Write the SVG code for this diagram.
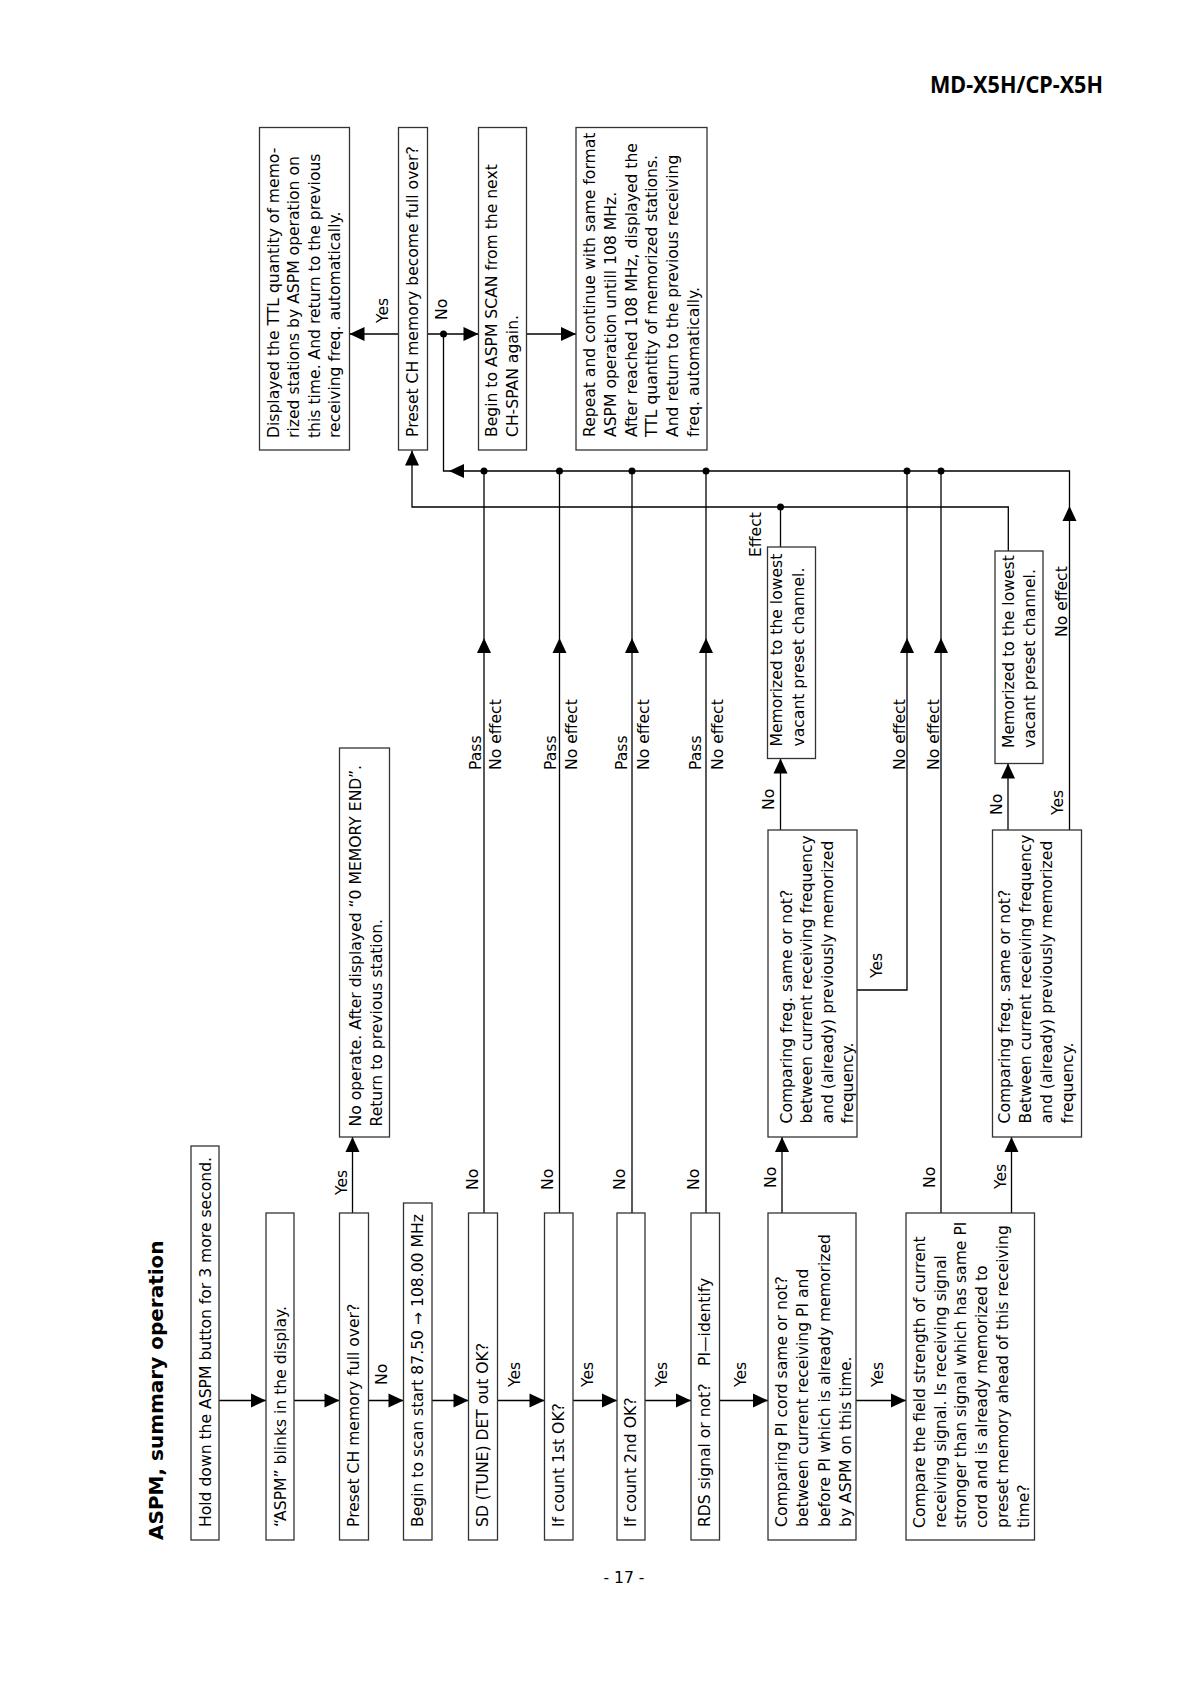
<svg xmlns="http://www.w3.org/2000/svg" width="1192" height="1685" viewBox="0 0 1192 1685">
<defs>
<marker id="ah" markerUnits="userSpaceOnUse" markerWidth="16" markerHeight="14" refX="15" refY="7" orient="auto" overflow="visible"><path d="M0,0 L15,7 L0,14 z" fill="#000"/></marker>
<style>
.bx{fill:#fff;stroke:#333;stroke-width:1.3}
.t{font-family:"DejaVu Sans",Verdana,sans-serif;font-size:15.6px;fill:#000}
.c{fill:none;stroke:#000;stroke-width:1.3}
.a{fill:none;stroke:#000;stroke-width:1.3;marker-end:url(#ah)}
.d{fill:#000}
</style>
</defs>
<rect width="1192" height="1685" fill="#fff"/>

<text x="1103" y="93" text-anchor="end" font-family="'Noto Sans','DejaVu Sans',sans-serif" font-weight="bold" font-size="22.5" textLength="173" lengthAdjust="spacingAndGlyphs">MD-X5H/CP-X5H</text>
<text transform="translate(163,1540) rotate(-90)" font-family="'DejaVu Sans',sans-serif" font-weight="bold" font-size="20">ASPM, summary operation</text>
<text x="624" y="1583" text-anchor="middle" class="t">- 17 -</text>

<g id="connectors">
<path class="a" d="M219,1400.5H266"/>
<path class="a" d="M294,1400.5H339.5"/>
<path class="a" d="M368.5,1400.5H403.5"/>
<path class="a" d="M432,1400.5H468.5"/>
<path class="a" d="M497.5,1400.5H544.5"/>
<path class="a" d="M573,1400.5H617"/>
<path class="a" d="M645,1400.5H691"/>
<path class="a" d="M719.5,1400.5H768"/>
<path class="a" d="M856,1400.5H906"/>
<path class="a" d="M352.5,1213V1137"/>
<path class="a" d="M484,1213V638"/><path class="c" d="M484,638V471"/>
<path class="a" d="M559.5,1213V638"/><path class="c" d="M559.5,638V471"/>
<path class="a" d="M632,1213V638"/><path class="c" d="M632,638V471"/>
<path class="a" d="M706,1213V638"/><path class="c" d="M706,638V471"/>
<path class="a" d="M782,1213V1137"/>
<path class="a" d="M780.5,830V758.5"/>
<path class="c" d="M780.5,547V507"/>
<path class="a" d="M857,990H907V638"/><path class="c" d="M907,638V471"/>
<path class="a" d="M941,1213V638"/><path class="c" d="M941,638V471"/>
<path class="a" d="M1011.5,1213V1137"/>
<path class="a" d="M1008,830V763.5"/>
<path class="a" d="M1008.3,551V507H412V450.5"/>
<path class="a" d="M1069.5,830V506"/>
<path class="a" d="M1069.5,506V471H449"/>
<path class="c" d="M449,471H443.5V334"/>
<path class="a" d="M427.5,334H478.5"/>
<path class="a" d="M398.5,334H349.5"/>
<path class="a" d="M526.5,334H576"/>
<circle class="d" cx="443.5" cy="334" r="3.5"/>
<circle class="d" cx="484" cy="471" r="3.5"/>
<circle class="d" cx="559.5" cy="471" r="3.5"/>
<circle class="d" cx="632" cy="471" r="3.5"/>
<circle class="d" cx="706" cy="471" r="3.5"/>
<circle class="d" cx="907" cy="471" r="3.5"/>
<circle class="d" cx="941" cy="471" r="3.5"/>
<circle class="d" cx="780.5" cy="507" r="3.5"/>
</g>

<g id="labels" class="t">
<text transform="translate(346.5,1195) rotate(-90)">Yes</text>
<text transform="translate(386.5,1385) rotate(-90)">No</text>
<text transform="translate(520,1387) rotate(-90)">Yes</text>
<text transform="translate(593,1387) rotate(-90)">Yes</text>
<text transform="translate(667,1387) rotate(-90)">Yes</text>
<text transform="translate(745.5,1387) rotate(-90)">Yes</text>
<text transform="translate(883,1387) rotate(-90)">Yes</text>
<text transform="translate(478,1190) rotate(-90)">No</text>
<text transform="translate(552.5,1190) rotate(-90)">No</text>
<text transform="translate(625,1190) rotate(-90)">No</text>
<text transform="translate(699,1190) rotate(-90)">No</text>
<text transform="translate(776,1188) rotate(-90)">No</text>
<text transform="translate(935,1188) rotate(-90)">No</text>
<text transform="translate(1006,1189) rotate(-90)">Yes</text>
<text transform="translate(481,770) rotate(-90)">Pass</text>
<text transform="translate(555.5,770) rotate(-90)">Pass</text>
<text transform="translate(627,770) rotate(-90)">Pass</text>
<text transform="translate(701,770) rotate(-90)">Pass</text>
<text transform="translate(501,770) rotate(-90)">No effect</text>
<text transform="translate(577,770) rotate(-90)">No effect</text>
<text transform="translate(649,770) rotate(-90)">No effect</text>
<text transform="translate(723,770) rotate(-90)">No effect</text>
<text transform="translate(904.5,770) rotate(-90)">No effect</text>
<text transform="translate(938.5,770) rotate(-90)">No effect</text>
<text transform="translate(774,810) rotate(-90)">No</text>
<text transform="translate(760.5,557) rotate(-90)">Effect</text>
<text transform="translate(882,978) rotate(-90)">Yes</text>
<text transform="translate(1001.5,815) rotate(-90)">No</text>
<text transform="translate(1063,815) rotate(-90)">Yes</text>
<text transform="translate(1067,637) rotate(-90)">No effect</text>
<text transform="translate(388,323) rotate(-90)">Yes</text>
<text transform="translate(446.5,320) rotate(-90)">No</text>
</g>

<g id="n1"><rect class="bx" x="191" y="1146" width="28" height="394"/><text class="t" transform="translate(210.5,1527) rotate(-90)">Hold down the ASPM button for 3 more second.</text></g>
<g id="n2"><rect class="bx" x="266" y="1213" width="28" height="327"/><text class="t" transform="translate(285.5,1527) rotate(-90)">“ASPM” blinks in the display.</text></g>
<g id="n3"><rect class="bx" x="339.5" y="1213" width="29" height="327"/><text class="t" transform="translate(359,1527) rotate(-90)">Preset CH memory full over?</text></g>
<g id="n4"><rect class="bx" x="403.5" y="1203" width="28.5" height="337"/><text class="t" transform="translate(423,1527) rotate(-90)">Begin to scan start 87.50 → 108.00 MHz</text></g>
<g id="n5"><rect class="bx" x="468.5" y="1213" width="29" height="327"/><text class="t" transform="translate(488,1527) rotate(-90)">SD (TUNE) DET out OK?</text></g>
<g id="n6"><rect class="bx" x="544.5" y="1213" width="28.5" height="327"/><text class="t" transform="translate(564,1527) rotate(-90)">If count 1st OK?</text></g>
<g id="n7"><rect class="bx" x="617" y="1213" width="28" height="327"/><text class="t" transform="translate(636,1527) rotate(-90)">If count 2nd OK?</text></g>
<g id="n8"><rect class="bx" x="691" y="1213" width="28.5" height="327"/><text class="t" transform="translate(710,1527) rotate(-90)"><tspan x="0" y="0">RDS signal or not?</tspan><tspan x="161" y="0">PI—identify</tspan></text></g>
<g id="n9"><rect class="bx" x="768" y="1213" width="88" height="327"/><text class="t" transform="translate(787,1527) rotate(-90)"><tspan x="0" y="0">Comparing PI cord same or not?</tspan><tspan x="0" y="21.3">between current receiving PI and</tspan><tspan x="0" y="42.6">before PI which is already memorized</tspan><tspan x="0" y="63.9">by ASPM on this time.</tspan></text></g>
<g id="n10"><rect class="bx" x="906" y="1213" width="128.5" height="327"/><text class="t" transform="translate(925,1528) rotate(-90)"><tspan x="0" y="0">Compare the field strength of current</tspan><tspan x="0" y="20.7">receiving signal. Is receiving signal</tspan><tspan x="0" y="41.4">stronger than signal which has same PI</tspan><tspan x="0" y="62.1">cord and is already memorized to</tspan><tspan x="0" y="82.8">preset memory ahead of this receiving</tspan><tspan x="0" y="103.5">time?</tspan></text></g>
<g id="n11"><rect class="bx" x="339.5" y="748" width="50" height="389"/><text class="t" transform="translate(361,1126.5) rotate(-90)"><tspan x="0" y="0">No operate. After displayed “0 MEMORY END”.</tspan><tspan x="0" y="21">Return to previous station.</tspan></text></g>
<g id="n12"><rect class="bx" x="768" y="830" width="89" height="307"/><text class="t" transform="translate(791.5,1123.5) rotate(-90)"><tspan x="0" y="0">Comparing freg. same or not?</tspan><tspan x="0" y="20.5">between current receiving frequency</tspan><tspan x="0" y="41">and (already) previously memorized</tspan><tspan x="0" y="61.5">frequency.</tspan></text></g>
<g id="n13"><rect class="bx" x="992.5" y="830" width="89" height="307"/><text class="t" transform="translate(1010,1123.5) rotate(-90)"><tspan x="0" y="0">Comparing freg. same or not?</tspan><tspan x="0" y="21">Between current receiving frequency</tspan><tspan x="0" y="42">and (already) previously memorized</tspan><tspan x="0" y="63">frequency.</tspan></text></g>
<g id="n14"><rect class="bx" x="767.5" y="547" width="48" height="211.5"/><text class="t" transform="translate(782,746.5) rotate(-90)"><tspan x="0" y="0">Memorized to the lowest</tspan><tspan x="0" y="21.5">vacant preset channel.</tspan></text></g>
<g id="n15"><rect class="bx" x="995" y="551" width="48" height="212.5"/><text class="t" transform="translate(1013.5,748) rotate(-90)"><tspan x="0" y="0">Memorized to the lowest</tspan><tspan x="0" y="21.5">vacant preset channel.</tspan></text></g>
<g id="n16"><rect class="bx" x="259.5" y="127.5" width="90" height="322.5"/><text class="t" transform="translate(278.5,438) rotate(-90)"><tspan x="0" y="0">Displayed the TTL quantity of memo-</tspan><tspan x="0" y="20.6">rized stations by ASPM operation on</tspan><tspan x="0" y="41.2">this time. And return to the previous</tspan><tspan x="0" y="61.8">receiving freq. automatically.</tspan></text></g>
<g id="n17"><rect class="bx" x="398.5" y="127.5" width="29" height="322.5"/><text class="t" transform="translate(418,437) rotate(-90)">Preset CH memory become full over?</text></g>
<g id="n18"><rect class="bx" x="478.5" y="127.5" width="48" height="322.5"/><text class="t" transform="translate(497,437) rotate(-90)"><tspan x="0" y="0">Begin to ASPM SCAN from the next</tspan><tspan x="0" y="21.3">CH-SPAN again.</tspan></text></g>
<g id="n19"><rect class="bx" x="576" y="127.5" width="131" height="322.5"/><text class="t" transform="translate(595,437) rotate(-90)"><tspan x="0" y="0">Repeat and continue with same format</tspan><tspan x="0" y="20.8">ASPM operation untill 108 MHz.</tspan><tspan x="0" y="41.6">After reached 108 MHz, displayed the</tspan><tspan x="0" y="62.4">TTL quantity of memorized stations.</tspan><tspan x="0" y="83.2">And return to the previous receiving</tspan><tspan x="0" y="104">freq. automatically.</tspan></text></g>
</svg>
